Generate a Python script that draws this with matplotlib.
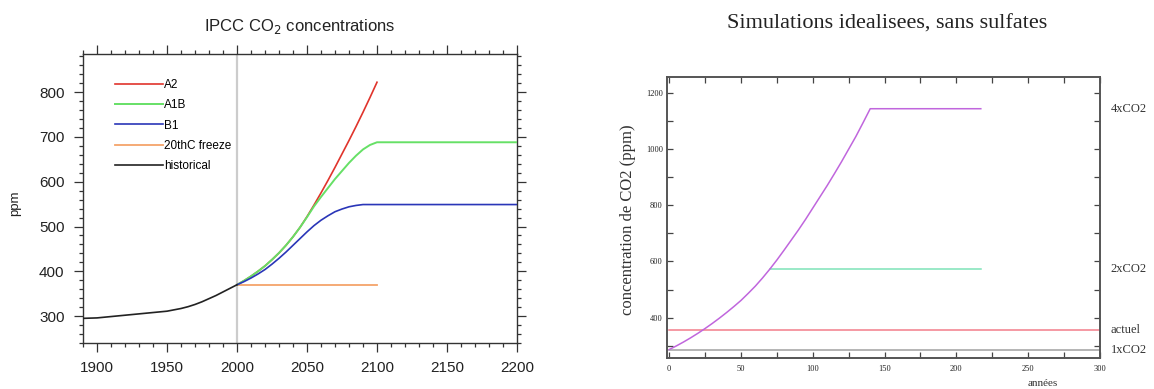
import matplotlib
matplotlib.use("Agg")
import matplotlib.pyplot as plt
from matplotlib.ticker import MultipleLocator
import matplotlib.transforms as mtransforms

# --- left panel: IPCC CO2 scenarios ---
hist_years = [1890, 1900, 1910, 1920, 1930, 1940, 1950, 1955, 1960, 1965, 1970,
              1975, 1980, 1985, 1990, 1995, 2000]
hist_ppm = [295, 296, 299, 302, 305, 308, 311, 314, 317, 321, 326,
            332, 339, 346, 354, 362, 370]

scen_years = [2000, 2005, 2010, 2015, 2020, 2025, 2030, 2035, 2040, 2045, 2050,
              2055, 2060, 2065, 2070, 2075, 2080, 2085, 2090, 2095, 2100]
a2_ppm = [370, 379, 389, 400, 412, 426, 441, 458, 477, 498, 522,
          548, 575, 603, 632, 662, 692, 723, 755, 788, 822]
a1b_years = scen_years + [2200]
a1b_ppm = [370, 379, 389, 400, 412, 426, 441, 458, 477, 498, 521,
           545, 566, 586, 606, 624, 642, 658, 672, 682, 688, 688]
b1_years = scen_years + [2200]
b1_ppm = [370, 377, 385, 394, 404, 416, 429, 443, 458, 473, 488,
          502, 514, 524, 533, 539, 544, 547, 549, 549, 549, 549]
freeze_years = [2000, 2100]
freeze_ppm = [370, 370]

# --- right panel: idealised simulations ---
sim_years = [0, 5, 10, 15, 20, 25, 30, 35, 40, 45, 50, 55, 60, 65, 70, 75, 80,
             85, 90, 95, 100, 105, 110, 115, 120, 125, 130, 135, 140, 217]
sim_ppm = [286, 299, 313, 328, 344, 361, 379, 398, 418, 439, 461, 486, 512, 541,
           572, 605, 640, 676, 712, 750, 790, 830, 870, 912, 955, 1000, 1045,
           1094, 1144, 1144]
co2x2_years = [70, 217]
co2x2_ppm = [572, 572]
actuel_years = [0, 300]
actuel_ppm = [355, 355]
co2x1_years = [0, 300]
co2x1_ppm = [286, 286]
right_labels = ["4xCO2", "2xCO2", "actuel", "1xCO2"]
right_label_ppm = [1144, 572, 357, 284]

W, H = 1154, 389
fig = plt.figure(figsize=(W / 100, H / 100), dpi=100)
sans = "Liberation Sans"
serif = "Liberation Serif"

# ---------------- left ----------------
ax1 = fig.add_axes([83 / W, 1 - 343 / H, (517 - 83) / W, (343 - 54) / H])
ax1.axvline(2000, color="#cccccc", linewidth=1.6, zorder=1)
ax1.plot(freeze_years, freeze_ppm, color="#f4a46a", linewidth=1.3, label="20thC freeze", zorder=2)
ax1.plot(scen_years, a2_ppm, color="#e0342c", linewidth=1.2, label="A2", zorder=3)
ax1.plot(a1b_years, a1b_ppm, color="#66e066", linewidth=1.4, label="A1B", zorder=3)
ax1.plot(b1_years, b1_ppm, color="#2a36b8", linewidth=1.2, label="B1", zorder=4)
ax1.plot(hist_years, hist_ppm, color="#222222", linewidth=1.2, label="historical", zorder=5)

ax1.set_xlim(1890, 2200)
ax1.set_ylim(240, 885)
ax1.xaxis.set_major_locator(MultipleLocator(50))
ax1.xaxis.set_minor_locator(MultipleLocator(10))
ax1.yaxis.set_major_locator(MultipleLocator(100))
ax1.yaxis.set_minor_locator(MultipleLocator(20))
ax1.tick_params(which="both", direction="out", top=True, right=True,
                colors="#333333", labelcolor="#222222", width=0.9)
ax1.tick_params(which="major", length=6.3, pad=7, labelsize=11)
ax1.tick_params(which="minor", length=3)
ax1.tick_params(labeltop=False, labelright=False)
for lab in ax1.get_xticklabels() + ax1.get_yticklabels():
    lab.set_family(sans)
for sp in ax1.spines.values():
    sp.set_color("#333333")
    sp.set_linewidth(1.0)

handles, labels = ax1.get_legend_handles_labels()
order = ["A2", "A1B", "B1", "20thC freeze", "historical"]
hmap = dict(zip(labels, handles))
ax1.legend([hmap[k] for k in order], order, loc="upper left",
           bbox_to_anchor=(0.05, 0.95), frameon=False, handlelength=4.0,
           handletextpad=0.1, labelspacing=0.7,
           prop={"family": sans, "size": 8.5})

fig.text(300 / W, 1 - 27 / H, "IPCC CO$_2$ concentrations", ha="center", va="center",
         fontsize=12, family=sans, color="#222222")
fig.text(15 / W, 1 - 203 / H, "ppm", rotation=90, ha="center", va="center",
         fontsize=9.5, family=sans, color="#222222")

# ---------------- right ----------------
ax2 = fig.add_axes([667 / W, 1 - 358 / H, (1100 - 667) / W, (358 - 77) / H])
ax2.plot(co2x1_years, co2x1_ppm, color="#a8a8a8", linewidth=1.2)
ax2.plot(actuel_years, actuel_ppm, color="#f27d8a", linewidth=1.1)
ax2.plot(co2x2_years, co2x2_ppm, color="#7fe3b8", linewidth=1.1)
ax2.plot(sim_years, sim_ppm, color="#c066dd", linewidth=1.1)

ax2.set_xlim(-1.5, 300)
ax2.set_ylim(256, 1257)
ax2.xaxis.set_major_locator(MultipleLocator(50))
ax2.xaxis.set_minor_locator(MultipleLocator(25))
ax2.yaxis.set_major_locator(MultipleLocator(200))
ax2.yaxis.set_minor_locator(MultipleLocator(100))
ax2.tick_params(which="both", direction="in", top=True, right=True,
                colors="#444444", labelcolor="#222222", width=0.9)
ax2.tick_params(which="major", length=4, labelsize=6, pad=5)
ax2.tick_params(which="minor", length=4)
ax2.tick_params(axis="y", which="major", pad=3)
for lab in ax2.get_xticklabels() + ax2.get_yticklabels():
    lab.set_family(serif)
for sp in ax2.spines.values():
    sp.set_color("#555555")
    sp.set_linewidth(1.4)

trans = mtransforms.blended_transform_factory(ax2.transAxes, ax2.transData)
for txt, val in zip(right_labels, right_label_ppm):
    ax2.text(1.025, val, txt, transform=trans, ha="left", va="center",
             fontsize=9, family=serif, color="#333333")

fig.text(887 / W, 1 - 24 / H, "Simulations idealisees, sans sulfates", ha="center",
         va="center", fontsize=16, family=serif, color="#222222")
fig.text(628 / W, 1 - 220 / H, "concentration de CO2 (ppm)", rotation=90, ha="center",
         va="center", fontsize=12, family=serif, color="#333333")
fig.text(1043 / W, 1 - 388 / H, "années", ha="center", va="bottom",
         fontsize=8, family=serif, color="#333333")

fig.savefig("out.png", dpi=100)
